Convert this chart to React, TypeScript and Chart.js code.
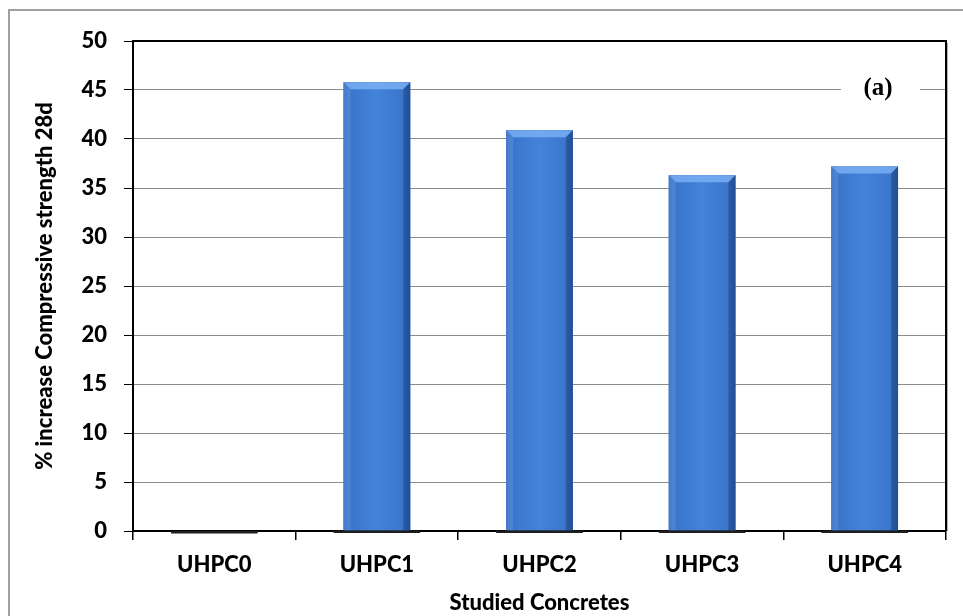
import React, { useEffect, useRef } from "react";
import { Chart, registerables } from "chart.js";

Chart.register(...registerables);

const categories = ["UHPC0", "UHPC1", "UHPC2", "UHPC3", "UHPC4"];
const strengthIncrease = [0, 45.8, 40.9, 36.3, 37.2];
const yTickMin = 0;
const yTickMax = 50;
const yTickStep = 5;
const yTitle = "% increase Compressive strength 28d";
const xTitle = "Studied Concretes";
const panelLabel = "(a)";

const FONT = "Lato, 'Open Sans', sans-serif";
const WEIGHT = "900";

const framePlugin = {
  id: "framePlugin",
  beforeDraw(chart: any) {
    const ctx = chart.ctx;
    ctx.save();
    ctx.fillStyle = "#ffffff";
    ctx.fillRect(0, 0, chart.width, chart.height);
    ctx.strokeStyle = "#a0a0a0";
    ctx.lineWidth = 2;
    ctx.beginPath();
    ctx.moveTo(9, chart.height + 5);
    ctx.lineTo(9, 10);
    ctx.lineTo(chart.width + 5, 10);
    ctx.stroke();
    ctx.restore();
  },
  afterDatasetsDraw(chart: any) {
    const ctx = chart.ctx;
    const meta = chart.getDatasetMeta(0);
    ctx.save();
    meta.data.forEach((bar: any) => {
      const { x, y, base, width } = bar.getProps(["x", "y", "base", "width"], true);
      const l = x - width / 2;
      const r = x + width / 2;
      const h = base - y;
      if (h > 1) {
        const g = ctx.createLinearGradient(l, 0, r, 0);
        g.addColorStop(0, "#2b5ca8");
        g.addColorStop(0.12, "#3a76cc");
        g.addColorStop(0.5, "#4483da");
        g.addColorStop(0.88, "#3a76cc");
        g.addColorStop(1, "#2a5aa6");
        ctx.fillStyle = g;
        ctx.fillRect(l, y, width, h);
        const b = 7;
        // top bevel
        ctx.fillStyle = "rgba(125,178,245,0.8)";
        ctx.beginPath();
        ctx.moveTo(l, y);
        ctx.lineTo(r, y);
        ctx.lineTo(r - b, y + b);
        ctx.lineTo(l + b, y + b);
        ctx.closePath();
        ctx.fill();
        // left bevel
        ctx.fillStyle = "rgba(95,150,228,0.55)";
        ctx.beginPath();
        ctx.moveTo(l, y);
        ctx.lineTo(l + b, y + b);
        ctx.lineTo(l + b, base);
        ctx.lineTo(l, base);
        ctx.closePath();
        ctx.fill();
        // right bevel
        ctx.fillStyle = "rgba(25,60,120,0.4)";
        ctx.beginPath();
        ctx.moveTo(r, y);
        ctx.lineTo(r - b, y + b);
        ctx.lineTo(r - b, base);
        ctx.lineTo(r, base);
        ctx.closePath();
        ctx.fill();
      }
      // base shadow
      ctx.fillStyle = "#1e1e1e";
      ctx.fillRect(l - 10, base, width + 20, 2.5);
    });
    ctx.restore();
  },
  afterDraw(chart: any) {
    const ctx = chart.ctx;
    const a = chart.chartArea;
    ctx.save();
    ctx.strokeStyle = "#000";
    ctx.lineWidth = 2;
    ctx.beginPath();
    ctx.moveTo(a.left, a.top);
    ctx.lineTo(a.right, a.top);
    ctx.lineTo(a.right, a.bottom);
    ctx.stroke();
    ctx.strokeStyle = "#b0b0b0";
    ctx.lineWidth = 1;
    ctx.beginPath();
    ctx.moveTo(a.right + 1.5, a.top + 2);
    ctx.lineTo(a.right + 1.5, a.bottom);
    ctx.stroke();
    // panel label
    const yy = chart.scales.y.getPixelForValue(45);
    const cx = a.right - 68;
    ctx.fillStyle = "#fff";
    ctx.fillRect(cx - 37, yy - 4, 79, 8);
    ctx.fillStyle = "#000";
    ctx.font = "bold 25px 'Liberation Serif', 'Times New Roman', serif";
    ctx.textAlign = "center";
    ctx.textBaseline = "middle";
    ctx.fillText(panelLabel, cx, yy - 1);
    ctx.restore();
  },
};

export default function App() {
  const ref = useRef<HTMLCanvasElement>(null);
  useEffect(() => {
    if (!ref.current) return;
    const chart = new Chart(ref.current, {
      type: "bar",
      data: {
        labels: categories,
        datasets: [
          {
            data: strengthIncrease,
            backgroundColor: "#3e7dd4",
            borderWidth: 0,
            categoryPercentage: 0.82,
            barPercentage: 0.5,
          },
        ],
      },
      options: {
        responsive: false,
        animation: false,
        plugins: { legend: { display: false }, tooltip: { enabled: false } },
        layout: { padding: { left: 20, top: 41, right: 17, bottom: 0 } },
        scales: {
          x: {
            grid: {
              display: true,
              drawOnChartArea: false,
              drawTicks: true,
              tickLength: 9,
              color: "#000",
              lineWidth: 1.5,
              offset: true,
            },
            border: { display: true, color: "#000", width: 2 },
            ticks: {
              color: "#000",
              padding: 12,
              font: { family: FONT, weight: WEIGHT, size: 22 },
            },
            title: {
              display: true,
              text: xTitle,
              color: "#000",
              padding: { top: 0, bottom: 0 },
              font: { family: FONT, weight: WEIGHT, size: 22 },
            },
            afterFit: (s: any) => {
              s.height = 85;
            },
          },
          y: {
            min: yTickMin,
            max: yTickMax,
            ticks: {
              stepSize: yTickStep,
              color: "#000",
              padding: 17,
              font: { family: FONT, weight: WEIGHT, size: 22 },
            },
            grid: {
              color: "#8c8c8c",
              lineWidth: 1,
              tickLength: 9,
              tickColor: "#000",
              drawTicks: true,
            },
            border: { display: true, color: "#000", width: 2 },
            title: {
              display: true,
              text: yTitle,
              color: "#000",
              padding: { top: 12, bottom: 0 },
              font: { family: FONT, weight: WEIGHT, size: 22 },
            },
            afterFit: (s: any) => {
              s.width = 113;
            },
          },
        },
      },
      plugins: [framePlugin],
    } as any);
    return () => chart.destroy();
  }, []);
  return (
    <div style={{ position: "fixed", left: 0, top: 0, width: 963, height: 616, background: "#fff" }}>
      <canvas ref={ref} width={963} height={616} style={{ display: "block" }} />
    </div>
  );
}
